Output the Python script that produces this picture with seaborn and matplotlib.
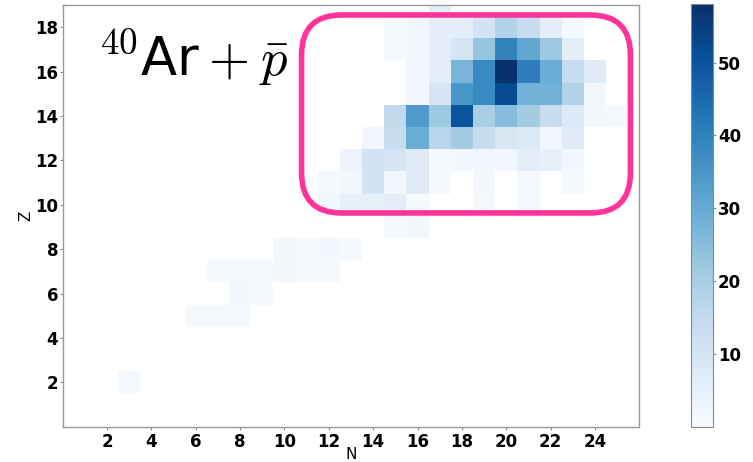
import matplotlib
matplotlib.use("Agg")
import matplotlib.pyplot as plt
from matplotlib.patches import FancyBboxPatch
import pandas as pd
import seaborn as sns

# Fragment yields per nuclide: each row is (first N, counts for N, N+1, ...)
row_z19 = (17, [6])
row_z18 = (15, [1, 2, 6, 6, 11, 18, 14, 6, 1])
row_z17 = (15, [1, 2, 6, 10, 23, 40, 31, 22, 6])
row_z16 = (16, [2, 6, 27, 38, 58, 41, 29, 14, 7])
row_z15 = (16, [2, 10, 35, 38, 52, 28, 28, 18, 2])
row_z14 = (15, [15, 34, 22, 50, 20, 25, 21, 14, 8, 2, 1])
row_z13 = (14, [2, 14, 29, 17, 21, 14, 9, 8, 2, 7])
row_z12 = (13, [3, 11, 10, 7, 1, 2, 2, 2, 6, 5, 2])
row_z11 = (12, [1, 2, 11, 2, 7, 1, 0, 2, 0, 1, 0, 1])
row_z10 = (12, [2, 5, 5, 6, 1, 0, 0, 1, 0, 1])
row_z9 = (15, [1, 2])
row_z8 = (10, [2, 1, 2, 1])
row_z7 = (7, [1, 1, 1, 2, 1, 1])
row_z6 = (8, [2, 1])
row_z5 = (6, [1, 1, 1])
row_z2 = (3, [1])

z_values = [19, 18, 17, 16, 15, 14, 13, 12, 11, 10, 9, 8, 7, 6, 5, 2]
rows = [row_z19, row_z18, row_z17, row_z16, row_z15, row_z14, row_z13, row_z12,
        row_z11, row_z10, row_z9, row_z8, row_z7, row_z6, row_z5, row_z2]

x_ticks = list(range(2, 25, 2))
y_ticks = list(range(2, 19, 2))
cbar_ticks = [10, 20, 30, 40, 50]

records = []
for z, (n0, counts) in zip(z_values, rows):
    for i, c in enumerate(counts):
        if c > 0:
            records.append({"N": n0 + i, "Z": z, "count": c})
df = pd.DataFrame(records)

sns.set_style("white")
plt.rcParams["mathtext.fontset"] = "cm"
plt.rcParams["font.family"] = ["DejaVu Sans"]

fig = plt.figure(figsize=(7.53, 4.62), dpi=100)
ax = fig.add_axes([0.0833, 0.0764, 0.7657, 0.9128])
cax = fig.add_axes([0.9177, 0.0764, 0.0292, 0.9143])

sns.histplot(data=df, x="N", y="Z", weights="count", discrete=True,
             cmap="Blues", vmin=0, vmax=58, cbar=True, cbar_ax=cax, ax=ax)

ax.set_xlim(0, 26)
ax.set_ylim(0, 19)
ax.set_xticks(x_ticks)
ax.set_yticks(y_ticks)
ax.set_xticklabels([str(t) for t in x_ticks], fontsize=12, fontweight="bold",
                   color="black")
ax.set_yticklabels([str(t) for t in y_ticks], fontsize=12, fontweight="bold",
                   color="black")
ax.tick_params(axis="x", bottom=True, length=2.5, pad=2, color="#888888")
ax.tick_params(axis="y", left=True, length=2.5, pad=0.8, color="#888888")
ax.set_xlabel("N", fontsize=11, labelpad=-3, color="black")
ax.set_ylabel("Z", fontsize=11, labelpad=1, color="black")
for sp in ax.spines.values():
    sp.set_color("#999999")
    sp.set_linewidth(1.0)

# highlight box around the heavy-fragment region
box = FancyBboxPatch((10.77, 9.63), 25.6 - 10.77, 18.55 - 9.63,
                     boxstyle="round,pad=0,rounding_size=1.8",
                     fill=False, edgecolor="#ff3399", linewidth=4, zorder=5)
ax.add_patch(box)

ax.text(0.062, 0.834, r"$^{40}$Ar$\:+\:\bar{p}$", transform=ax.transAxes,
        fontsize=38, color="black", zorder=6)

cbar = ax.collections[0].colorbar
cbar.outline.set_edgecolor("#888888")
cbar.set_ticks(cbar_ticks)
cax.set_yticklabels([str(t) for t in cbar_ticks], fontsize=12, fontweight="bold",
                    color="black")
cax.tick_params(axis="y", right=True, length=2, pad=1.5, color="#888888")

fig.savefig("out.png", dpi=100, facecolor="white")
